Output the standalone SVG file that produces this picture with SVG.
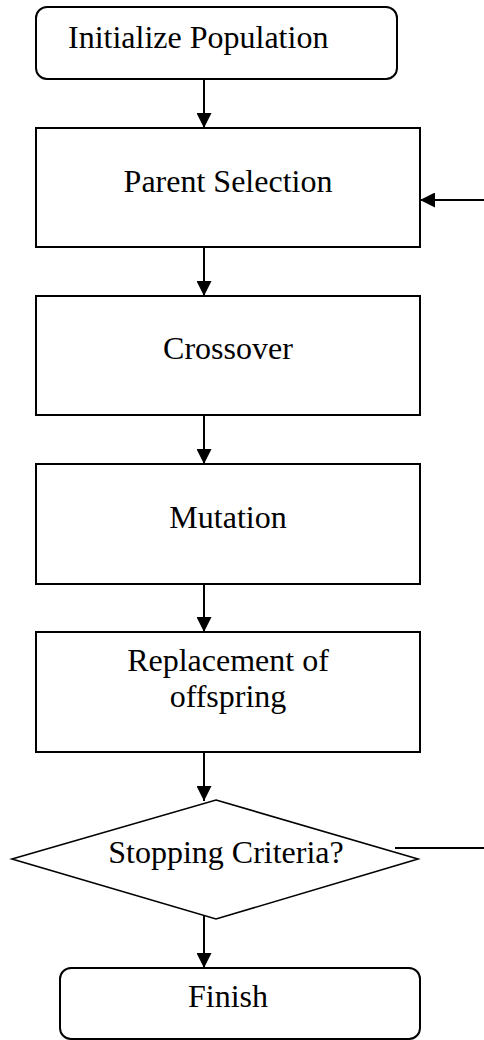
<svg xmlns="http://www.w3.org/2000/svg" width="484" height="1040" viewBox="0 0 484 1040">
  <style>
    .box { fill: #ffffff; stroke: #000000; stroke-width: 2; }
    .dec { fill: #ffffff; stroke: #000000; stroke-width: 1.6; }
    .lbl { font-family: "Liberation Serif", "Times New Roman", serif; font-size: 32px; fill: #000000; }
    .mid { text-anchor: middle; }
    .link { fill: none; stroke: #000000; stroke-width: 2; }
  </style>
  <defs>
    <marker id="arrow" markerUnits="userSpaceOnUse" viewBox="0 0 15 15" markerWidth="15" markerHeight="15" refX="15" refY="7.5" orient="auto">
      <path d="M0,0 L15,7.5 L0,15 Z" fill="#000000"/>
    </marker>
  </defs>
  <rect width="484" height="1040" fill="#ffffff"/>

  <g id="connectors">
    <line class="link" x1="204" y1="79" x2="204" y2="128" marker-end="url(#arrow)"/>
    <line class="link" x1="484" y1="200" x2="420" y2="200" marker-end="url(#arrow)"/>
    <line class="link" x1="204" y1="247" x2="204" y2="296" marker-end="url(#arrow)"/>
    <line class="link" x1="204" y1="415" x2="204" y2="464" marker-end="url(#arrow)"/>
    <line class="link" x1="204" y1="584" x2="204" y2="632" marker-end="url(#arrow)"/>
    <line class="link" x1="204" y1="752" x2="204" y2="801" marker-end="url(#arrow)"/>
    <line class="link" x1="395" y1="848" x2="484" y2="848"/>
    <line class="link" x1="204" y1="916" x2="204" y2="968" marker-end="url(#arrow)"/>
  </g>

  <g id="init">
    <rect class="box" x="36" y="7" width="361" height="72" rx="11" ry="11"/>
    <text class="lbl" x="68" y="48">Initialize Population</text>
  </g>

  <g id="parent-selection">
    <rect class="box" x="36" y="128" width="384" height="119"/>
    <text class="lbl mid" x="228" y="192">Parent Selection</text>
  </g>

  <g id="crossover">
    <rect class="box" x="36" y="296" width="384" height="119"/>
    <text class="lbl mid" x="228" y="359">Crossover</text>
  </g>

  <g id="mutation">
    <rect class="box" x="36" y="464" width="384" height="120"/>
    <text class="lbl mid" x="228" y="528">Mutation</text>
  </g>

  <g id="replacement">
    <rect class="box" x="36" y="632" width="384" height="120"/>
    <text class="lbl mid" x="228" y="671">Replacement of</text>
    <text class="lbl mid" x="228" y="707">offspring</text>
  </g>

  <g id="stopping">
    <polygon class="dec" points="216,800 418,859 216,919 12,859"/>
    <text class="lbl mid" x="226" y="863">Stopping Criteria?</text>
  </g>

  <g id="finish">
    <rect class="box" x="60" y="968" width="360" height="71" rx="11" ry="11"/>
    <text class="lbl mid" x="228" y="1007">Finish</text>
  </g>
</svg>
